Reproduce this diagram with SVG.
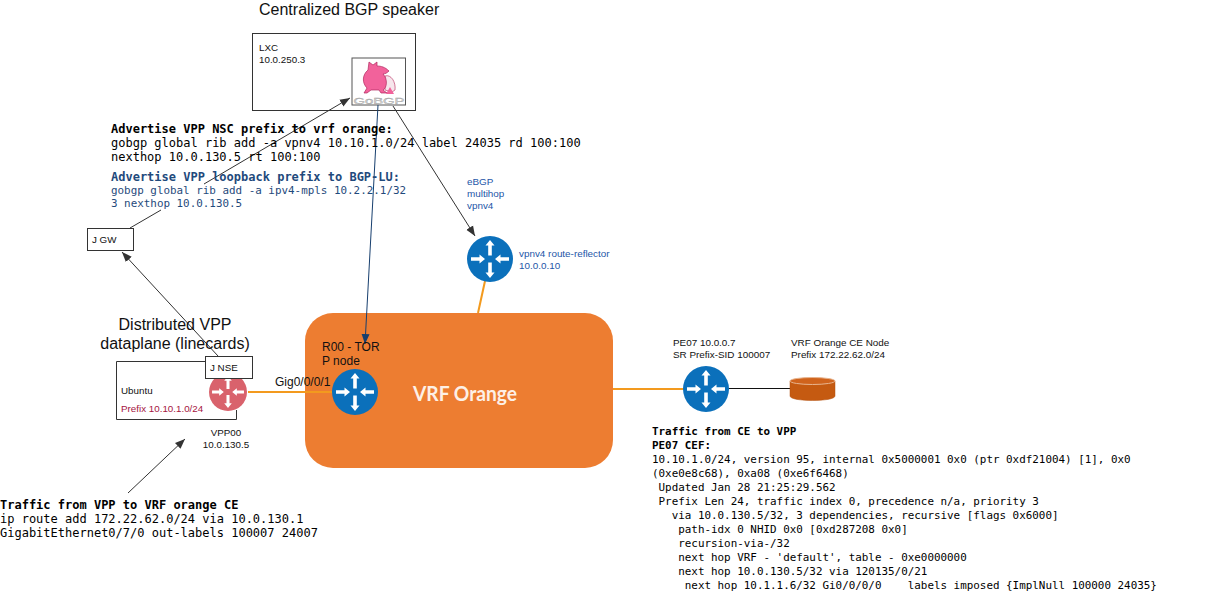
<svg xmlns="http://www.w3.org/2000/svg" width="1217" height="607" viewBox="0 0 1217 607">
<style>
text{font-family:"Liberation Sans",Arial,sans-serif;fill:#111}
.box{fill:#fff;stroke:#333;stroke-width:1}
.mono{font-family:"DejaVu Sans Mono","Liberation Mono",monospace;white-space:pre;fill:#000}
.m12{font-size:12px}.m11{font-size:10.9px}.b{font-weight:bold}
.navy{fill:#1f4a7c}
.t16{font-size:16px}.t12{font-size:12px}.t10{font-size:9.8px}.t9{font-size:9.9px}
.blue{fill:#2456a8}
.c{fill:none;stroke:#333;stroke-width:1}
.o{fill:none;stroke:#f39a1e;stroke-width:2}
.w{fill:#fff}
</style>
<defs>
<marker id="a" viewBox="0 0 10 10" refX="10" refY="5" markerWidth="10" markerHeight="10" markerUnits="userSpaceOnUse" orient="auto"><path d="M0 1L10 5L0 9Z" fill="#333"/></marker>
<marker id="n" viewBox="0 0 10 10" refX="10" refY="5" markerWidth="10" markerHeight="10" markerUnits="userSpaceOnUse" orient="auto"><path d="M0 1L10 5L0 9Z" fill="#173f6e"/></marker>
<g id="arrows">
<path class="w" d="M0-19L4.500-13.500H1.800V-3.500H-1.800V-13.500H-4.500Z"/>
<path class="w" d="M0 19L4.500 13.500H1.800V3.500H-1.800V13.500H-4.500Z"/>
<path class="w" d="M-5 0L-10.500-4.500V-1.800H-19V1.800H-10.500V4.500Z"/>
<path class="w" d="M5 0L10.500-4.500V-1.800H19V1.800H10.500V4.500Z"/>
</g>
</defs>

<g id="vrf-orange">
<rect x="305" y="313" width="308" height="155" rx="28" fill="#ed7d31"/>
<text x="465" y="401" text-anchor="middle" textLength="104" lengthAdjust="spacingAndGlyphs" style="font-family:Lato,'Open Sans',sans-serif;font-size:20px;font-weight:700;fill:#fdf0e6">VRF Orange</text>
</g>

<g id="lxc">
<rect class="box" x="252.500" y="33.500" width="163" height="77"/>
<text class="t10" x="259" y="50.500">LXC</text>
<text class="t10" x="259" y="63">10.0.250.3</text>
</g>
<text id="title-bgp" class="t16" x="259" y="15">Centralized BGP speaker</text>

<g id="gobgp">
<rect x="352" y="58" width="53.500" height="47" fill="#fff" stroke="#555" stroke-width="1"/>
<path d="M385 76C391 74 396 82 395 90L392 92L385 90Z" fill="#f6e6ec" stroke="#c0406f" stroke-width=".7"/>
<path d="M369 62L373 65L377 62L377 66C381 66 385 67 389 71C387 73 385 74 383 74C388 79 387 88 383 90L387 93H381L379 90L371 90L367 93H364L367 88C362 83 362 75 368 70Z" fill="#f2629b" stroke="#b0285f" stroke-width=".7"/>
<path d="M390 87L394 94H386Z" fill="#f2629b"/>
<text x="379" y="104" text-anchor="middle" textLength="51" lengthAdjust="spacingAndGlyphs" style="font-size:9px;fill:#dcdcdc;stroke:#999;stroke-width:.3">GoBGP</text>
</g>

<g id="connectors">
<path class="o" d="M248 392H333"/>
<path class="o" d="M485 281L478 313"/>
<path class="o" d="M613 389H684"/>
<path class="c" d="M728 388.500H790" style="stroke:#111"/>
<path class="c" d="M130 228L161 210"/>
<path class="c" d="M204 184L350 98" marker-end="url(#a)"/>
<path class="c" d="M393 106L475 236" marker-end="url(#a)"/>
<path class="c" d="M218 356L122 252" marker-end="url(#a)"/>
<path class="c" d="M128 493L185 439" marker-end="url(#a)"/>
<path class="c" d="M378 105L365 344" style="stroke:#173f6e" marker-end="url(#n)"/>
</g>

<g id="ubuntu">
<path class="box" d="M205.500 361.500H116.500V419.500H236.500V410"/>
<text class="t10" x="121" y="394">Ubuntu</text>
<text class="t10" x="121" y="412" style="fill:#a5153f">Prefix 10.10.1.0/24</text>
</g>
<text id="title-vpp" class="t16" x="175" y="330" text-anchor="middle">Distributed VPP</text>
<text id="title-vpp2" class="t16" x="175" y="349" text-anchor="middle">dataplane (linecards)</text>

<g id="vpp00">
<circle cx="228" cy="392" r="19" fill="#d9626c"/>
<use href="#arrows" transform="translate(228 392) scale(.84)"/>
<text class="t10" x="226" y="436" text-anchor="middle">VPP00</text>
<text class="t10" x="226" y="448" text-anchor="middle">10.0.130.5</text>
</g>

<g id="j-nse">
<rect class="box" x="205.500" y="356.500" width="47" height="22"/>
<text class="t10" x="210" y="371">J NSE</text>
</g>
<g id="j-gw">
<rect class="box" x="87.500" y="228.500" width="46" height="22"/>
<text class="t10" x="92" y="243">J GW</text>
</g>

<g id="r00">
<circle cx="355" cy="392" r="23" fill="#0b70bb"/>
<use href="#arrows" transform="translate(355 392)"/>
<text class="t12" x="322" y="351">R00 - TOR</text>
<text class="t12" x="322" y="365">P node</text>
</g>
<text id="gig" class="t12" x="275" y="386">Gig0/0/0/1</text>

<g id="route-reflector">
<circle cx="490" cy="259" r="23" fill="#0b70bb"/>
<use href="#arrows" transform="translate(490 259)"/>
<text class="t9 blue" x="519" y="257">vpnv4 route-reflector</text>
<text class="t9 blue" x="519" y="269">10.0.0.10</text>
</g>
<text class="t9 blue" x="467" y="185">eBGP</text>
<text class="t9 blue" x="467" y="197">multihop</text>
<text class="t9 blue" x="467" y="209">vpnv4</text>

<g id="pe07">
<circle cx="706" cy="389" r="23" fill="#0b70bb"/>
<use href="#arrows" transform="translate(706 389)"/>
<text class="t9" x="673" y="346">PE07 10.0.0.7</text>
<text class="t9" x="673" y="358">SR Prefix-SID 100007</text>
</g>

<g id="ce-node">
<path d="M790 381V396C790 402 835 402 835 396V381Z" fill="#c55a11" stroke="#b25010" stroke-width=".5"/>
<ellipse cx="812.500" cy="381" rx="22.500" ry="3.500" fill="#d0631c" stroke="#e8b48e" stroke-width="1"/>
<text class="t9" x="791" y="346">VRF Orange CE Node</text>
<text class="t9" x="791" y="358">Prefix 172.22.62.0/24</text>
</g>

<g id="advertise-notes">
<text class="mono m12 b" x="111" y="133">Advertise VPP NSC prefix to vrf orange:</text>
<text class="mono m12" x="111" y="147">gobgp global rib add -a vpnv4 10.10.1.0/24 label 24035 rd 100:100</text>
<text class="mono m12" x="111" y="161">nexthop 10.0.130.5 rt 100:100</text>
<text class="mono m12 b navy" x="111" y="181">Advertise VPP loopback prefix to BGP-LU:</text>
<text class="mono m11 navy" x="111" y="194">gobgp global rib add -a ipv4-mpls 10.2.2.1/32</text>
<text class="mono m11 navy" x="111" y="207">3 nexthop 10.0.130.5</text>
</g>

<g id="traffic-vpp-ce">
<text class="mono m12 b" x="0" y="509">Traffic from VPP to VRF orange CE</text>
<text class="mono m12" x="0" y="523">ip route add 172.22.62.0/24 via 10.0.130.1</text>
<text class="mono m12" x="0" y="537">GigabitEthernet0/7/0 out-labels 100007 24007</text>
</g>

<g id="traffic-ce-vpp">
<text class="mono m11 b" x="652" y="435">Traffic from CE to VPP</text>
<text class="mono m11 b" x="652" y="449">PE07 CEF:</text>
<text class="mono m11" x="652" y="463">10.10.1.0/24, version 95, internal 0x5000001 0x0 (ptr 0xdf21004) [1], 0x0</text>
<text class="mono m11" x="652" y="477">(0xe0e8c68), 0xa08 (0xe6f6468)</text>
<text class="mono m11" x="652" y="491"> Updated Jan 28 21:25:29.562</text>
<text class="mono m11" x="652" y="505"> Prefix Len 24, traffic index 0, precedence n/a, priority 3</text>
<text class="mono m11" x="652" y="519">   via 10.0.130.5/32, 3 dependencies, recursive [flags 0x6000]</text>
<text class="mono m11" x="652" y="533">    path-idx 0 NHID 0x0 [0xd287208 0x0]</text>
<text class="mono m11" x="652" y="547">    recursion-via-/32</text>
<text class="mono m11" x="652" y="561">    next hop VRF - 'default', table - 0xe0000000</text>
<text class="mono m11" x="652" y="575">    next hop 10.0.130.5/32 via 120135/0/21</text>
<text class="mono m11" x="652" y="589">     next hop 10.1.1.6/32 Gi0/0/0/0    labels imposed {ImplNull 100000 24035}</text>
</g>
</svg>
